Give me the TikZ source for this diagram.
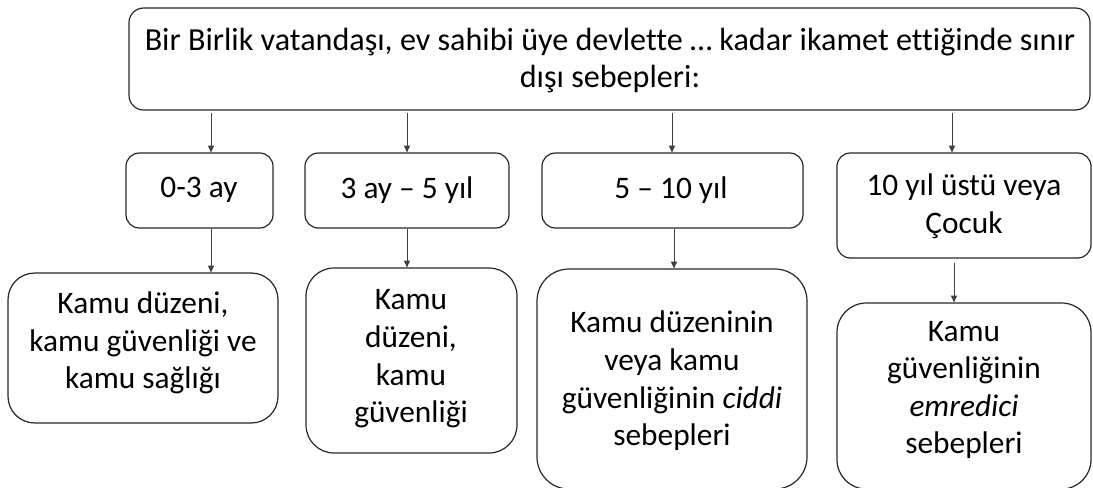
\documentclass[tikz,border=0pt]{standalone}
\usepackage{fontspec}
\setmainfont{Carlito}[Ligatures={NoCommon}]
\usetikzlibrary{arrows.meta,fit}
\begin{document}
\begin{tikzpicture}[x=0.75pt,y=-0.75pt,
  box/.style={draw=black!85, line width=0.9pt, inner sep=0pt, rounded corners=#1},
  box/.default=10pt,
  txt/.style={align=center, inner sep=0pt, font=\fontsize{23.5}{28.2}\selectfont},
  arr/.style={draw=black!75, line width=0.55pt, -{Triangle[length=5pt,width=4.5pt]}}]
\useasboundingbox (0,0) rectangle (1093,487);
\clip (0,0) rectangle (1093,487);
% top
\node[box=11pt, fit={(129,8)(1090,110)}] (top) {};
\node[txt, font=\fontsize{24.1}{27.7}\selectfont] (ttop) at (610,61) {Bir Birlik vatandaşı, ev sahibi üye devlette … kadar ikamet ettiğinde sınır\\dışı sebepleri:};
% row 2
\node[box, fit={(126,153)(273,228)}] (A) {};
\node[txt] (tA) at (199,190) {0-3 ay};
\node[box, fit={(305,153)(509,228)}] (B) {};
\node[txt] (tB) at (407,190) {3 ay – 5 yıl};
\node[box, fit={(542,153)(803,228)}] (C) {};
\node[txt] (tC) at (671,190) {5 – 10 yıl};
\node[box, fit={(837,153)(1091,258)}] (D) {};
\node[txt] (tD) at (964,206) {10 yıl üstü veya\\Çocuk};
% row 3
\node[box=20pt, fit={(8,273)(278,423)}] (E) {};
\node[txt] (tE) at (143,343) {Kamu düzeni,\\kamu güvenliği ve\\kamu sağlığı};
\node[box=21pt, fit={(306,268)(517,453)}] (F) {};
\node[txt] (tF) at (411,359) {Kamu\\düzeni,\\kamu\\güvenliği};
\node[box=24pt, fit={(537,269)(807,489)}] (G) {};
\node[txt] (tG) at (672,381) {Kamu düzeninin\\veya kamu\\güvenliğinin \textit{ciddi}\\sebepleri};
\node[box=22pt, fit={(837,303)(1091,489)}] (H) {};
\node[txt] (tH) at (964,390) {Kamu\\güvenliğinin\\\textit{emredici}\\sebepleri};
% connectors
\coordinate (x1) at (211,0);
\coordinate (x2) at (407,0);
\coordinate (x3) at (672,0);
\coordinate (x4) at (952,0);
\coordinate (y3) at (674,0);
\coordinate (y4) at (954,0);
\draw[arr, shorten <=1.5pt] (top.south -| x1) -- (A.north -| x1);
\draw[arr, shorten <=1.5pt] (top.south -| x2) -- (B.north -| x2);
\draw[arr, shorten <=1.5pt] (top.south -| x3) -- (C.north -| x3);
\draw[arr, shorten <=1.5pt] (top.south -| x4) -- (D.north -| x4);
\draw[arr] (A.south -| x1) -- (E.north -| x1);
\draw[arr] (B.south -| x2) -- (F.north -| x2);
\draw[arr] (C.south -| y3) -- (G.north -| y3);
\draw[arr, shorten <=3pt] (D.south -| y4) -- (H.north -| y4);
\end{tikzpicture}
\end{document}
